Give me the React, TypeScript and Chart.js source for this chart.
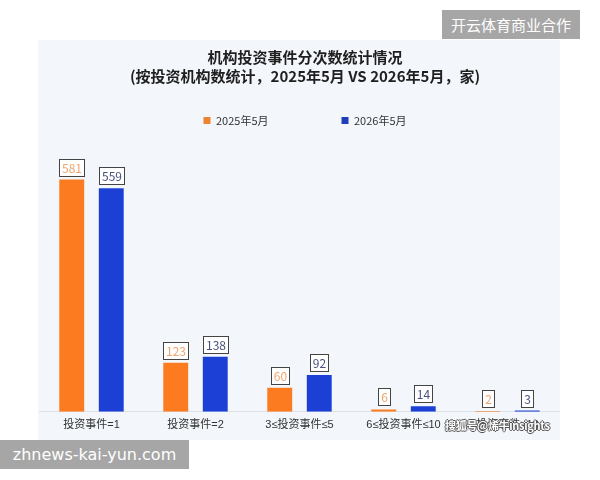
import React, { useEffect, useRef } from "react";
import { Chart, registerables } from "chart.js";

Chart.register(...registerables);

const categories = ["投资事件=1", "投资事件=2", "3≤投资事件≤5", "6≤投资事件≤10", "投资事件>10"];
const series2025 = [581, 123, 60, 6, 2];
const series2026 = [559, 138, 92, 14, 3];
const seriesNames = ["2025年5月", "2026年5月"];
const titleLines = ["机构投资事件分次数统计情况", "(按投资机构数统计，2025年5月 VS 2026年5月，家)"];

const FONT = "'Noto Sans CJK SC', 'Noto Sans', sans-serif";
const TICK_FONT = "'Liberation Sans', 'Noto Sans CJK SC', sans-serif";
const barColors = ["#fd7b20", "#1c40d6"];
const legendColors = ["#ec8330", "#1f3fb8"];
const labelTextColors = ["#eea46c", "#46527e"];

const boxLabelPlugin = {
  id: "boxLabels",
  afterDatasetsDraw(chart: any) {
    const ctx = chart.ctx;
    ctx.save();
    ctx.font = `12px ${FONT}`;
    ctx.textAlign = "center";
    ctx.textBaseline = "middle";
    chart.data.datasets.forEach((ds: any, di: number) => {
      const meta = chart.getDatasetMeta(di);
      meta.data.forEach((el: any, i: number) => {
        const text = String(ds.data[i]);
        const tw = ctx.measureText(text).width;
        const w = Math.round(tw + 5);
        const h = 17;
        const x = Math.round(el.x - w / 2) + 0.5;
        const y = Math.round(el.y - 4 - h) + 0.5;
        ctx.fillStyle = "#ffffff";
        ctx.fillRect(x, y, w, h);
        ctx.strokeStyle = "#444444";
        ctx.lineWidth = 1;
        ctx.strokeRect(x, y, w, h);
        ctx.fillStyle = labelTextColors[di];
        ctx.fillText(text, x + w / 2, y + h / 2 + 0.5);
      });
    });
    ctx.restore();
  },
};

function BarChart() {
  const ref = useRef<HTMLCanvasElement>(null);
  useEffect(() => {
    if (!ref.current) return;
    Chart.defaults.font.family = FONT;
    const chart = new Chart(ref.current, {
      type: "bar",
      data: {
        labels: categories,
        datasets: [
          {
            label: seriesNames[0],
            data: series2025,
            backgroundColor: barColors[0],
            categoryPercentage: 0.76,
            barPercentage: 0.63,
          },
          {
            label: seriesNames[1],
            data: series2026,
            backgroundColor: barColors[1],
            categoryPercentage: 0.76,
            barPercentage: 0.63,
          },
        ],
      },
      options: {
        responsive: false,
        animation: false,
        layout: { padding: { top: 0, left: 1.5, right: 1.5, bottom: 1 } },
        plugins: {
          title: {
            display: true,
            text: titleLines,
            color: "#1f1f1f",
            font: { size: 15, weight: "bold", lineHeight: 1.25, family: FONT },
            padding: { top: 8, bottom: -43.5 },
          },
          legend: {
            display: true,
            position: "top",
            labels: {
              boxWidth: 7,
              boxHeight: 7,
              padding: 73,
              color: "#333333",
              font: { size: 11, family: FONT },
              generateLabels: (chart: any) =>
                chart.data.datasets.map((ds: any, i: number) => ({
                  text: ds.label,
                  fillStyle: legendColors[i],
                  strokeStyle: legendColors[i],
                  lineWidth: 0,
                  hidden: false,
                  datasetIndex: i,
                  fontColor: "#333333",
                })),
            },
          },
          tooltip: { enabled: false },
        },
        scales: {
          x: {
            grid: { display: false, drawTicks: false },
            border: { display: true, color: "#dde1e8", width: 1 },
            ticks: { color: "#333333", font: { size: 11, family: TICK_FONT }, padding: 7, maxRotation: 0, autoSkip: false },
          },
          y: {
            display: true,
            position: "right",
            min: 0,
            max: 690,
            grid: { display: false, drawTicks: false },
            border: { display: false },
            ticks: { display: false },
            afterFit: (scale: any) => {
              scale.width = 11;
            },
          },
        },
      },
      plugins: [boxLabelPlugin],
    } as any);
    return () => chart.destroy();
  }, []);
  return <canvas ref={ref} width={534} height={400} style={{ position: "absolute", left: 38, top: 40, width: 534, height: 400 }} />;
}

export default function App() {
  return (
    <div style={{ position: "absolute", left: 0, top: 0, width: 600, height: 480, background: "#ffffff", overflow: "hidden", fontFamily: FONT }}>
      <div style={{ position: "absolute", left: 38, top: 40, width: 522, height: 400, background: "#f3f6fb" }} />
      <BarChart />
      <div
        style={{
          position: "absolute",
          left: 442,
          top: 10,
          width: 138,
          height: 29,
          background: "#a6a6a6",
          color: "#ffffff",
          fontSize: 15,
          lineHeight: "29px",
          textAlign: "center",
        }}
      >
        开云体育商业合作
      </div>
      <div
        style={{
          position: "absolute",
          left: 0,
          top: 440,
          width: 189,
          height: 29,
          background: "#a6a6a6",
          color: "#ffffff",
          fontSize: 16,
          lineHeight: "29px",
          textAlign: "center",
          fontFamily: "'DejaVu Sans', sans-serif",
        }}
      >
        zhnews-kai-yun.com
      </div>
      <div
        style={{
          position: "absolute",
          left: 445,
          top: 416,
          height: 18,
          color: "#ffffff",
          fontSize: 11,
          letterSpacing: -0.3,
          lineHeight: "18px",
          fontWeight: "bold",
          whiteSpace: "nowrap",
          textShadow: "-1px 0 #555, 1px 0 #555, 0 -1px #555, 0 1px #555",
        }}
      >
        搜狐号@烯牛insights
      </div>
    </div>
  );
}
